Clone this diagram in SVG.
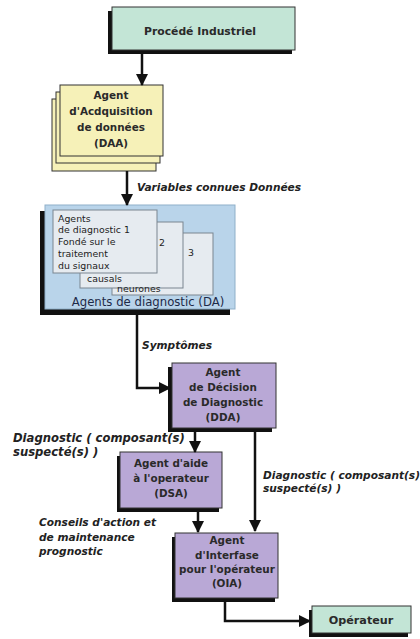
<svg xmlns="http://www.w3.org/2000/svg" width="420" height="639" viewBox="0 0 420 639">
<defs>
<marker id="ah" markerUnits="userSpaceOnUse" markerWidth="12" markerHeight="12" viewBox="0 0 12 12" refX="11" refY="6" orient="auto">
<path d="M0,0 L12,6 L0,12 Z" fill="#111"/>
</marker>
</defs>
<style>
.sh{fill:#111}
.box{stroke:#333;stroke-width:1}
.t{font-family:"DejaVu Sans",sans-serif;font-weight:bold;fill:#2a2a2a;text-anchor:middle;font-size:10.4px}
.lbl{font-family:"DejaVu Sans",sans-serif;font-weight:bold;font-style:italic;fill:#222;font-size:10.6px}
.card{fill:#e6ebf0;stroke:#7a8590;stroke-width:1}
.ct{font-family:"DejaVu Sans",sans-serif;font-size:9.4px;fill:#222}
.c{fill:none;stroke:#111;stroke-width:2.5;marker-end:url(#ah)}
</style>
<rect width="420" height="639" fill="#fff"/>
<g id="procede">
<rect class="sh" x="108" y="11" width="184" height="43"/>
<rect class="box" x="112" y="7" width="183" height="43" fill="#c3e5d6"/>
<text class="t" x="200" y="35" style="font-size:10.8px">Procédé Industriel</text>
</g>
<g id="daa">
<rect class="box" x="52" y="99" width="104" height="72" fill="#f6f1b8"/>
<rect class="box" x="56" y="92" width="104" height="71" fill="#f6f1b8"/>
<rect class="box" x="60" y="85" width="103" height="71" fill="#f6f1b8"/>
<text class="t"><tspan x="111" y="99">Agent</tspan><tspan x="111" y="115">d'Acdquisition</tspan><tspan x="111" y="131">de données</tspan><tspan x="111" y="147">(DAA)</tspan></text>
</g>
<g id="da">
<rect class="sh" x="40" y="211" width="190" height="104"/>
<rect x="45" y="205" width="190" height="104" fill="#b9d4ea" stroke="#8fb0c9" stroke-width="1"/>
<rect class="card" x="112" y="233" width="101" height="62"/>
<rect class="card" x="80" y="222" width="103" height="66"/>
<rect class="card" x="53" y="210" width="104" height="63"/>
<text class="ct"><tspan x="58" y="222">Agents</tspan><tspan x="58" y="233">de diagnostic 1</tspan><tspan x="58" y="245">Fondé sur le</tspan><tspan x="58" y="257">traitement</tspan><tspan x="58" y="269">du signaux</tspan></text>
<text class="ct" x="159" y="246">2</text>
<text class="ct" x="87" y="282">causals</text>
<text class="ct" x="188" y="256">3</text>
<text class="ct" x="117" y="292">neurones</text>
<text x="148" y="306" font-family="DejaVu Sans,sans-serif" font-size="11.7" fill="#1e2a48" text-anchor="middle">Agents de diagnostic (DA)</text>
</g>
<g id="dda">
<rect class="sh" x="168" y="367" width="104" height="65"/>
<rect class="box" x="172" y="363" width="104" height="65" fill="#b9a8d6"/>
<text class="t"><tspan x="223" y="376">Agent</tspan><tspan x="223" y="391">de Décision</tspan><tspan x="223" y="406">de Diagnostic</tspan><tspan x="223" y="421">(DDA)</tspan></text>
</g>
<g id="dsa">
<rect class="sh" x="117" y="456" width="102" height="56"/>
<rect class="box" x="120" y="452" width="102" height="56" fill="#b9a8d6"/>
<text class="t"><tspan x="171" y="467">Agent d'aide</tspan><tspan x="171" y="482">à l'operateur</tspan><tspan x="171" y="497">(DSA)</tspan></text>
</g>
<g id="oia">
<rect class="sh" x="172" y="537" width="103" height="65"/>
<rect class="box" x="175" y="533" width="103" height="65" fill="#b9a8d6"/>
<text class="t"><tspan x="227" y="544">Agent</tspan><tspan x="227" y="559">d'Interfase</tspan><tspan x="227" y="573">pour l'opérateur</tspan><tspan x="227" y="587">(OIA)</tspan></text>
</g>
<g id="operateur">
<rect class="sh" x="309" y="610" width="99" height="27"/>
<rect class="box" x="312" y="606" width="99" height="27" fill="#c3e5d6"/>
<text class="t" x="361" y="624" style="font-size:11.2px">Opérateur</text>
</g>
<g id="labels">
<text class="lbl" x="137" y="191">Variables connues Données</text>
<text class="lbl" x="142" y="349">Symptômes</text>
<text class="lbl" style="font-size:11.6px"><tspan x="13" y="442">Diagnostic ( composant(s)</tspan><tspan x="13" y="456">suspecté(s) )</tspan></text>
<text class="lbl"><tspan x="263" y="479">Diagnostic ( composant(s)</tspan><tspan x="263" y="492">suspecté(s) )</tspan></text>
<text class="lbl"><tspan x="39" y="526">Conseils d'action et</tspan><tspan x="39" y="541">de maintenance</tspan><tspan x="39" y="555">prognostic</tspan></text>
</g>
<g id="connectors">
<path class="c" d="M142,54 V85"/>
<path class="c" d="M127,171 V205"/>
<path class="c" d="M137,315 V388 H170"/>
<path class="c" d="M195,432 V452"/>
<path class="c" d="M255,432 V531"/>
<path class="c" d="M198,512 V532"/>
<path class="c" d="M225,602 V621 H310"/>
</g>
</svg>
